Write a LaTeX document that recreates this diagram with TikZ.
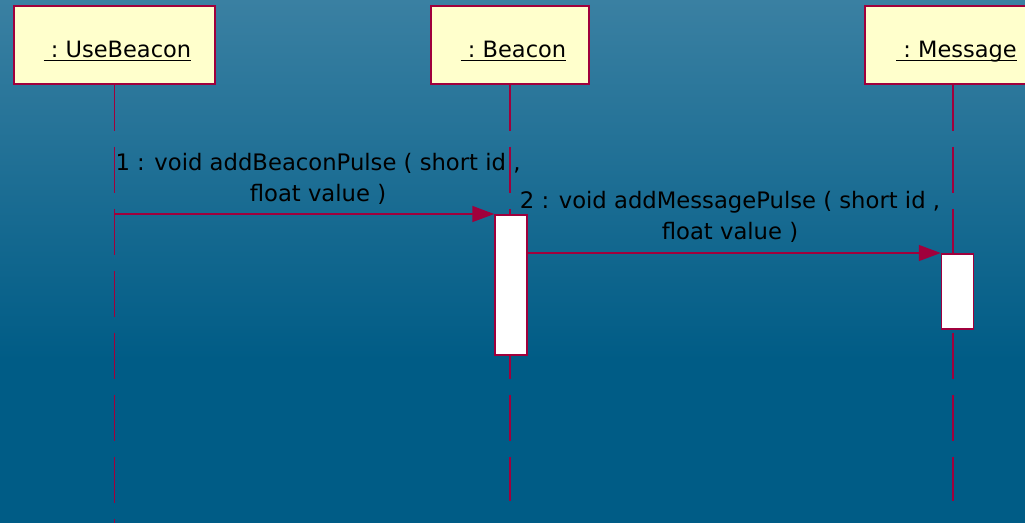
\documentclass[tikz,border=0pt]{standalone}
\usepackage{fontspec}
\setmainfont{DejaVu Sans}
\usetikzlibrary{arrows.meta}
\definecolor{umlred}{RGB}{160,0,60}
\definecolor{boxfill}{RGB}{255,255,204}
\definecolor{bgtop}{RGB}{58,128,162}
\definecolor{bgbot}{RGB}{0,92,134}
\tikzset{
  objbox/.style={draw=umlred, line width=1.5pt, fill=boxfill, minimum height=78pt, inner sep=0pt},
  objtext/.style={anchor=base, inner sep=0pt, font=\fontsize{22.5}{24}\selectfont},
  objline/.style={black, line width=1.6pt},
  actbar/.style={draw=umlred, line width=1.5pt, fill=white, minimum width=32pt, inner sep=0pt},
  lifeline/.style={umlred, line width=1.2pt, dash pattern=on 46pt off 16pt},
  msg/.style={umlred, line width=1.5pt, -{Triangle[length=22pt,width=16pt]}},
  msglabel/.style={font=\fontsize{22.7}{31}\selectfont, align=center, inner sep=0pt}
}

\begin{document}
\begin{tikzpicture}[x=1pt, y=-1pt]
		%%%%% START %%%%%
		\useasboundingbox (0,0) rectangle (1025,523);
		\clip (0,0) rectangle (1025,523);
		
		% background
		\shade[top color=bgtop, bottom color=bgbot] (0,0) rectangle (1025,360);
		\fill[bgbot] (0,359) rectangle (1025,523);
		
		% objects
		\node[objbox, minimum width=201pt] (usebeacon) at (114.5,45) {};
		\node[objbox, minimum width=158pt] (beacon) at (510,45) {};
		\node[objbox, minimum width=176pt] (message) at (953,45) {};
		\node[objtext] (usebeacontext) at (117.5,57) {\ :\ UseBeacon};
		\node[objtext] (beacontext) at (513.5,57) {\ :\ Beacon};
		\node[objtext] (messagetext) at (956.5,57) {\ :\ Message};
		\draw[objline] ([yshift=-3.5pt]usebeacontext.base west) -- ([yshift=-3.5pt]usebeacontext.base east);
		\draw[objline] ([yshift=-3.5pt]beacontext.base west) -- ([yshift=-3.5pt]beacontext.base east);
		\draw[objline] ([yshift=-3.5pt]messagetext.base west) -- ([yshift=-3.5pt]messagetext.base east);
		
		% lifelines
		\coordinate (usebeaconend) at (usebeacon.south |- 0,523);
		\coordinate (beaconend) at (beacon.south |- 0,501);
		\coordinate (messageend) at (message.south |- 0,501);
		\draw[lifeline] (usebeacon.south) -- (usebeaconend);
		\draw[lifeline] (beacon.south) -- (beaconend);
		\draw[lifeline] (message.south) -- (messageend);
		
		% activations
		\node[actbar, minimum height=140pt, anchor=north] (beaconbar) at (511,214) {};
		\node[actbar, minimum height=75pt, anchor=north] (messagebar) at (957.5,253) {};
		
		% messages
		\draw[msg] (usebeacon.south |- beaconbar.north west) -- (beaconbar.north west);
		\node[msglabel] (msgone) at (318,179) {1 : void addBeaconPulse ( short id ,\\float value )};
		
		\draw[msg] (beaconbar.east |- messagebar.north west) -- (messagebar.north west);
		\node[msglabel] (msgtwo) at (730,217) {2 : void addMessagePulse ( short id ,\\float value )};
		
		%%%%% END %%%%%
	\end{tikzpicture}
\end{document}
